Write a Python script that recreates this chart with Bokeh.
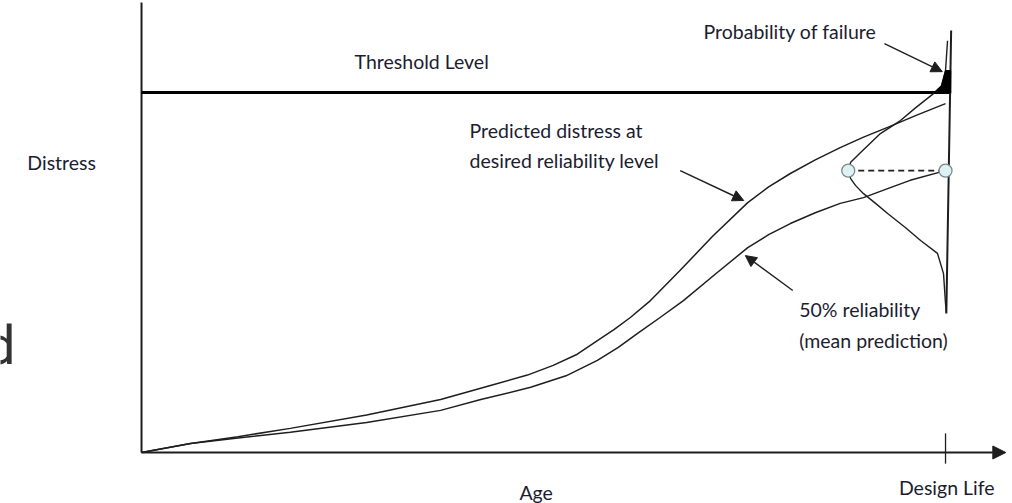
from bokeh.plotting import figure
from bokeh.models import Range1d, Arrow, NormalHead
from bokeh.core.properties import value
from bokeh.embed import file_html
from bokeh.resources import INLINE

# ---- data (age in % of design life, distress in % of threshold) ----
upper_age = [0, 6.1, 12.0, 18.5, 28.0, 37.2, 43.4, 48.0, 51.2, 54.2, 56.7, 58.8, 60.8, 63.3, 67.0,
             71.0, 75.4, 78.0, 80.7, 83.8, 86.9, 89.8, 92.8, 96.5, 100.0]
upper_distress = [0, 2.5, 4.4, 6.7, 10.4, 14.7, 18.6, 21.5, 24.2, 27.3, 31.1, 34.2, 37.5, 42.2, 50.6,
                  60.0, 69.4, 73.8, 77.5, 81.3, 84.7, 87.6, 90.3, 93.8, 96.9]

lower_age = [0, 6.1, 12.0, 18.5, 28.0, 37.2, 42.2, 48.4, 52.8, 56.7, 59.3, 61.7, 64.5, 67.4, 71.5,
             75.4, 78.0, 80.7, 83.8, 86.9, 89.8, 92.8, 95.6, 100.0]
lower_distress = [0, 2.5, 4.0, 5.6, 8.3, 11.7, 14.7, 18.1, 21.3, 25.6, 29.2, 33.1, 37.5, 42.2, 49.8,
                  56.9, 60.5, 63.6, 66.6, 69.2, 70.8, 73.3, 75.6, 78.3]

bell_age = [100.25, 100.0, 99.5, 98.5, 96.3, 94.4, 91.9, 89.7, 88.2, 87.9, 88.2, 88.8, 89.8,
            91.3, 92.8, 95.0, 96.9, 99.0, 99.75, 100.0, 100.1]
bell_distress = [114.4, 106.1, 101.9, 99.7, 95.8, 92.2, 88.6, 83.9, 80.6, 78.3, 76.1, 74.2, 71.9,
                 69.2, 66.4, 62.5, 58.9, 55.3, 49.7, 41.4, 38.9]

tail_age = [98.6, 99.5, 100.0, 100.65, 100.65]
tail_distress = [100.0, 101.9, 106.1, 106.1, 100.0]

base_age = [100.7, 100.1]
base_distress = [117.2, 38.6]

threshold = 100.0
design_life = 100.0
mean_at_life = 78.3
reliable_age = 87.9

dot_age = [reliable_age, design_life]
dot_distress = [mean_at_life, mean_at_life]

p = figure(width=1012, height=503, output_backend="svg", toolbar_location=None,
           x_range=Range1d(-17.54, 108.33), y_range=Range1d(-14.17, 125.56),
           min_border=0, background_fill_color="white", border_fill_color="white")
p.axis.visible = False
p.grid.visible = False
p.outline_line_color = None

INK = "#1e1e1e"

# axes
p.line([0, 0], [0, 125], line_color=INK, line_width=2)
p.add_layout(Arrow(x_start=0, y_start=0, x_end=107.5, y_end=0, line_color=INK, line_width=2,
                   end=NormalHead(size=13, fill_color=INK, line_color=INK)))
p.line([design_life, design_life], [5.3, -3.1], line_color=INK, line_width=1.3)

# threshold
p.line([0, 100.7], [threshold, threshold], line_color="black", line_width=3)

# curves
p.line(upper_age, upper_distress, line_color=INK, line_width=1.5)
p.line(lower_age, lower_distress, line_color=INK, line_width=1.5)

# distribution
p.line(base_age, base_distress, line_color=INK, line_width=2)
p.line(bell_age, bell_distress, line_color=INK, line_width=1.4)
p.patch(tail_age, tail_distress, fill_color="black", line_color="black")

# dashed line and dots
p.line(dot_age, dot_distress, line_color=INK, line_width=1.6, line_dash="6 4")
p.scatter(dot_age, dot_distress, size=13, fill_color="#def2f4", line_color="#7a8a90", line_width=1.3)

# arrows
for xs, ys, xe, ye in [(92.4, 113.6, 99.6, 105.8), (67.0, 78.3, 74.9, 70.0), (81.0, 45.0, 75.1, 54.7)]:
    p.add_layout(Arrow(x_start=xs, y_start=ys, x_end=xe, y_end=ye, line_color=INK, line_width=1.4,
                       end=NormalHead(size=11, fill_color=INK, line_color=INK)))

FONT = value("Lato")
labels = [
    ("Threshold Level", 26.5, 108.6),
    ("Probability of failure", 69.9, 116.9),
    ("Distress", -14.2, 80.6),
    ("Predicted distress at", 40.8, 89.4),
    ("desired reliability level", 40.8, 81.1),
    ("50% reliability", 81.8, 39.7),
    ("(mean prediction)", 81.8, 31.1),
    ("Design Life", 94.2, -9.7),
    ("Age", 47.0, -11.0),
]
p.text(x=[l[1] for l in labels], y=[l[2] for l in labels], text=[l[0] for l in labels],
       text_font=FONT, text_font_size="19.5px", text_color="#1c1c30",
       text_align="left", text_baseline="middle")

p.text(x=[-15.67], y=[29.7], text=["d"], text_font=value("Roboto"), text_font_size="54px",
       text_color="#333333", text_align="right", text_baseline="alphabetic")

open("out.html", "w").write(file_html(p, INLINE))
